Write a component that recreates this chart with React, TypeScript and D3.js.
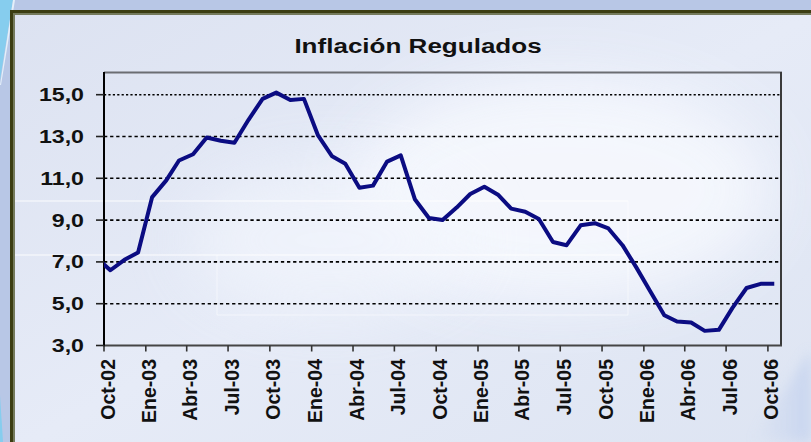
import React from "react";
import * as d3 from "d3";

const TITLE = "Inflación Regulados";
const MONTH_NAMES = ["Ene", "Feb", "Mar", "Abr", "May", "Jun", "Jul", "Ago", "Sep", "Oct", "Nov", "Dic"];
const Y_TICKS = [3, 5, 7, 9, 11, 13, 15];
const Y_DOMAIN = [3, 16];
const X_START = "2002-10-01";
const X_END = "2006-11-01";

const MONTHS = [
  "2002-09", "2002-10", "2002-11", "2002-12",
  "2003-01", "2003-02", "2003-03", "2003-04", "2003-05", "2003-06",
  "2003-07", "2003-08", "2003-09", "2003-10", "2003-11", "2003-12",
  "2004-01", "2004-02", "2004-03", "2004-04", "2004-05", "2004-06",
  "2004-07", "2004-08", "2004-09", "2004-10", "2004-11", "2004-12",
  "2005-01", "2005-02", "2005-03", "2005-04", "2005-05", "2005-06",
  "2005-07", "2005-08", "2005-09", "2005-10", "2005-11", "2005-12",
  "2006-01", "2006-02", "2006-03", "2006-04", "2006-05", "2006-06",
  "2006-07", "2006-08", "2006-09", "2006-10",
];
const VALUES = [
  7.2, 6.6, 7.1, 7.45,
  10.1, 10.9, 11.85, 12.15, 12.95, 12.8,
  12.7, 13.8, 14.8, 15.1, 14.75, 14.8,
  13.05, 12.05, 11.7, 10.55, 10.65, 11.8,
  12.1, 10.0, 9.1, 9.0, 9.6, 10.25,
  10.6, 10.2, 9.55, 9.4, 9.05, 7.95,
  7.8, 8.75, 8.85, 8.6, 7.8, 6.75,
  5.6, 4.45, 4.15, 4.1, 3.7, 3.75,
  4.8, 5.75, 5.95, 5.95,
];

const W = 811;
const H = 442;
const PL = 104, PR = 782, PT = 73.8, PB = 345.5;
const FONT = "'Liberation Sans', Arial, sans-serif";

export default function App() {
  const x = d3.scaleUtc()
    .domain([new Date(X_START + "T00:00:00Z"), new Date(X_END + "T00:00:00Z")])
    .range([PL, PR]);
  const y = d3.scaleLinear().domain(Y_DOMAIN).range([PB, PT]);

  const data = MONTHS.map((m, i) => ({ date: new Date(m + "-15T00:00:00Z"), value: VALUES[i] }));
  const line = d3.line<{ date: Date; value: number }>()
    .x((d) => x(d.date))
    .y((d) => y(d.value));

  const xTicks = d3.utcMonth.every(3)!.range(x.domain()[0], new Date(x.domain()[1].getTime() + 1));
  const fmtX = (d: Date) => `${MONTH_NAMES[d.getUTCMonth()]}-${String(d.getUTCFullYear()).slice(2)}`;
  const fmtY = (v: number) => d3.format(".1f")(v).replace(".", ",");

  return (
    <div style={{ position: "fixed", left: 0, top: 0, width: W, height: H }}>
      <svg width={W} height={H} style={{ display: "block" }}>
        <defs>
          <linearGradient id="boxg" x1="0" y1="0" x2="1" y2="1">
            <stop offset="0" stopColor="#dce2f1" />
            <stop offset="0.5" stopColor="#e6ebf7" />
            <stop offset="1" stopColor="#dde4f2" />
          </linearGradient>
          <linearGradient id="cornerg" x1="0" y1="0" x2="1" y2="0">
            <stop offset="0" stopColor="#c9d6ef" stopOpacity="0" />
            <stop offset="1" stopColor="#c2d1ee" stopOpacity="1" />
          </linearGradient>
          <filter id="blur" x="-50%" y="-50%" width="200%" height="200%">
            <feGaussianBlur stdDeviation="30" />
          </filter>
          <filter id="blur2" x="-50%" y="-50%" width="200%" height="200%">
            <feGaussianBlur stdDeviation="6" />
          </filter>
          <clipPath id="plotclip">
            <rect x={PL} y={PT - 2} width={PR - PL} height={PB - PT + 2} />
          </clipPath>
          <clipPath id="boxclip">
            <rect x={12} y={12} width={W} height={H} />
          </clipPath>
        </defs>

        {/* slide background */}
        <rect x={0} y={0} width={W} height={H} fill="#b8c7e6" />
        <path d="M0,0 L13,0 L0,80 Z" fill="#86cdee" />
        <path d="M13,0 L15,0 L1,85 L0,85 Z" fill="#e4f0fa" />
        <path d="M0,395 L3,442 L0,442 Z" fill="#86cdee" />

        {/* chart box */}
        <rect x={10} y={10} width={W} height={H} fill="url(#boxg)" />
        <g clipPath="url(#boxclip)">
          <ellipse cx={560} cy={190} rx={210} ry={110} fill="#f7f9fe" opacity={0.85} filter="url(#blur)" />
          <ellipse cx={330} cy={240} rx={140} ry={70} fill="#f3f6fd" opacity={0.7} filter="url(#blur)" />
          <path d="M811,350 L811,442 L750,442 Z" fill="url(#cornerg)" opacity={0.8} filter="url(#blur2)" />
          <line x1={12} y1={201} x2={628} y2={201} stroke="#ffffff" strokeOpacity={0.45} strokeWidth={2} />
          <line x1={12} y1={255} x2={628} y2={255} stroke="#ffffff" strokeOpacity={0.45} strokeWidth={2} />
          <line x1={217} y1={255} x2={217} y2={315} stroke="#ffffff" strokeOpacity={0.35} strokeWidth={1.5} />
          <line x1={217} y1={315} x2={628} y2={315} stroke="#ffffff" strokeOpacity={0.35} strokeWidth={1.5} />
          <line x1={628} y1={201} x2={628} y2={315} stroke="#ffffff" strokeOpacity={0.35} strokeWidth={1.5} />
        </g>
        <path d={`M11.5,${H} L11.5,11.5 L${W},11.5`} fill="none" stroke="#3b3d12" strokeWidth={3} />
        <path d={`M14,${H} L14,14 L${W},14`} fill="none" stroke="#747a5c" strokeWidth={2} />

        {/* title */}
        <text transform="translate(418,53) scale(1.24,1)" textAnchor="middle" fontFamily={FONT}
          fontWeight="bold" fontSize={21} fill="#111">
          {TITLE}
        </text>

        {/* gridlines */}
        {Y_TICKS.filter((v) => v > Y_DOMAIN[0]).map((v) => (
          <line key={"g" + v} x1={PL} x2={PR} y1={y(v)} y2={y(v)} stroke="#000"
            strokeWidth={1.6} strokeDasharray={v === 15 ? "2.2 2.2" : "3.3 2.8"} />
        ))}

        {/* plot frame */}
        <line x1={PL} x2={PR} y1={72.5} y2={72.5} stroke="#6b6d72" strokeWidth={2} />
        <line x1={781} x2={781} y1={72} y2={PB} stroke="#3a3a3a" strokeWidth={2} />
        <line x1={PL} x2={782} y1={PB} y2={PB} stroke="#454545" strokeWidth={2} />
        <line x1={PL} x2={PL} y1={72} y2={PB + 1} stroke="#000" strokeWidth={2} />

        {/* y ticks and labels */}
        {Y_TICKS.map((v) => (
          <g key={"y" + v}>
            <line x1={96} x2={PL} y1={y(v)} y2={y(v)} stroke="#222" strokeWidth={1.6} />
            <text transform={`translate(84,${y(v) + 6.5}) scale(1.22,1)`} textAnchor="end" fontFamily={FONT}
              fontWeight="bold" fontSize={19} fill="#111">
              {fmtY(v)}
            </text>
          </g>
        ))}

        {/* x ticks and labels */}
        {xTicks.map((d) => (
          <g key={"x" + d.getTime()}>
            <line x1={x(d)} x2={x(d)} y1={PB} y2={PB + 6} stroke="#333" strokeWidth={1.6} />
            <text transform={`translate(${x(d) + 10.5},359) rotate(-90)`} textAnchor="end"
              fontFamily={FONT} fontWeight="bold" fontSize={19.5} fill="#111">
              {fmtX(d)}
            </text>
          </g>
        ))}

        {/* series */}
        <g clipPath="url(#plotclip)">
          <path d={line(data) || ""} fill="none" stroke="#0b0c82" strokeWidth={4} strokeLinejoin="round" />
        </g>
      </svg>
    </div>
  );
}
